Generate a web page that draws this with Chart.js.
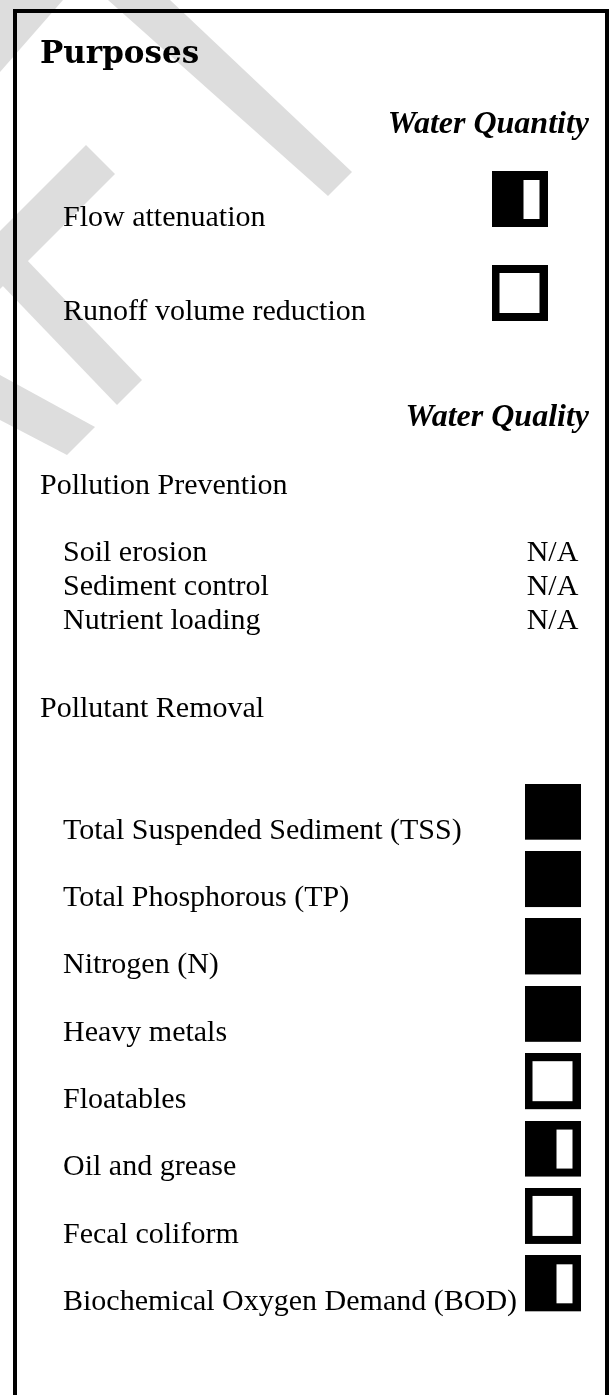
<!DOCTYPE html>
<html>
<head>
<meta charset="utf-8">
<title>Purposes</title>
<script src="https://cdn.jsdelivr.net/npm/chart.js@4"></script>
<style>
  html, body { margin: 0; padding: 0; background: #fff; }
  #wrap { position: relative; width: 613px; height: 1395px; }
</style>
</head>
<body>
<div id="wrap"><canvas id="purposeChart"></canvas></div>
<script>
// ratings: 1 = full square, 0.5 = half square, 0 = hollow square, null = N/A
const columns = ["Water Quantity", "Water Quality"];

const quantityLabels = ["Flow attenuation", "Runoff volume reduction"];
const quantityRatings = [0.5, 0];

const preventionLabels = ["Soil erosion", "Sediment control", "Nutrient loading"];
const preventionRatings = [null, null, null];

const removalLabels = [
  "Total Suspended Sediment (TSS)",
  "Total Phosphorous (TP)",
  "Nitrogen (N)",
  "Heavy metals",
  "Floatables",
  "Oil and grease",
  "Fecal coliform",
  "Biochemical Oxygen Demand (BOD)"
];
const removalRatings = [1, 1, 1, 1, 0, 0.5, 0, 0.5];

const serif = "'Liberation Serif', 'Times New Roman', serif";
const axisWidth = 440;

// rating icon, drawn in the top of a taller canvas so it sits on the text baseline
function makeIcon(rating) {
  const c = document.createElement("canvas");
  c.width = 56;
  c.height = 94;
  const g = c.getContext("2d");
  g.fillStyle = "#000";
  g.fillRect(0, 0, 56, 56);
  g.fillStyle = "#fff";
  if (rating === 0) g.fillRect(8, 8, 40, 40);
  if (rating === 0.5) g.fillRect(32, 9, 16, 39);
  return c;
}
const icons = { "1": makeIcon(1), "0.5": makeIcon(0.5), "0": makeIcon(0) };

function points(labels, ratings, column) {
  return labels.map((l, i) => ({ x: column, y: l, rating: ratings[i] }));
}

// grey "draft" strokes behind the page
const watermark = [
  [[108, 0], [170, 0], [352, 172], [328, 196]],
  [[0, 0], [63, 0], [0, 72]],
  [[86, 145], [115, 174], [0, 289], [0, 231]],
  [[0, 232], [142, 380], [117, 405], [0, 283]],
  [[0, 375], [95, 427], [67, 455], [0, 420]]
];

const headings = [
  { text: "Purposes", x: 40, y: 55, align: "left", font: "bold 31px 'DejaVu Serif', serif" },
  { text: "Water Quantity", x: 589, y: 125, align: "right", font: "italic bold 32px " + serif },
  { text: "Water Quality", x: 589, y: 418, align: "right", font: "italic bold 32px " + serif },
  { text: "Pollution Prevention", x: 40, y: 486, align: "left", font: "30px " + serif },
  { text: "Pollutant Removal", x: 40, y: 709, align: "left", font: "30px " + serif }
];

const pagePlugin = {
  id: "page",
  beforeDraw(chart) {
    const ctx = chart.ctx;
    ctx.save();
    ctx.fillStyle = "#fff";
    ctx.fillRect(0, 0, chart.width, chart.height);
    ctx.fillStyle = "#dddddd";
    watermark.forEach(poly => {
      ctx.beginPath();
      poly.forEach((p, i) => i ? ctx.lineTo(p[0], p[1]) : ctx.moveTo(p[0], p[1]));
      ctx.closePath();
      ctx.fill();
    });
    ctx.strokeStyle = "#000";
    ctx.lineWidth = 4;
    ctx.strokeRect(15, 11, 592, 1450);
    ctx.restore();
  },
  afterDraw(chart) {
    const ctx = chart.ctx;
    ctx.save();
    ctx.fillStyle = "#000";
    ctx.textBaseline = "middle";
    headings.forEach(h => {
      ctx.font = h.font;
      ctx.textAlign = h.align;
      ctx.fillText(h.text, h.x, h.y);
    });
    // N/A for rows without a rating
    ctx.font = "30px " + serif;
    ctx.textAlign = "center";
    chart.data.datasets.forEach((ds, di) => {
      chart.getDatasetMeta(di).data.forEach((el, i) => {
        if (ds.data[i].rating === null) ctx.fillText("N/A", el.x, el.y);
      });
    });
    ctx.restore();
  }
};

// row labels are mirrored ticks pulled back to the left margin, so long ones are not clipped
const rowScale = (labels, weight, order) => ({
  type: "category",
  labels: labels,
  offset: true,
  position: "left",
  stack: "rows",
  stackWeight: weight,
  weight: order,
  grid: { display: false },
  border: { display: false },
  ticks: {
    mirror: true,
    crossAlign: "near",
    padding: -axisWidth,
    autoSkip: false,
    color: "#000",
    font: { family: serif, size: 30 }
  },
  afterFit: s => { s.width = axisWidth; }
});

const gapScale = (weight, order) => ({
  type: "category",
  labels: [""],
  offset: true,
  position: "left",
  stack: "rows",
  stackWeight: weight,
  weight: order,
  display: false
});

const iconStyle = ctx => icons[String(ctx.raw.rating)];

new Chart(document.getElementById("purposeChart"), {
  type: "scatter",
  data: {
    datasets: [
      {
        label: "Water Quantity",
        data: points(quantityLabels, quantityRatings, columns[0]),
        yAxisID: "yQuantity",
        pointStyle: iconStyle,
        pointRadius: 28,
        clip: false
      },
      {
        label: "Pollution Prevention",
        data: points(preventionLabels, preventionRatings, columns[1]),
        yAxisID: "yPrevention",
        pointStyle: false,
        pointRadius: 0,
        clip: false
      },
      {
        label: "Pollutant Removal",
        data: points(removalLabels, removalRatings, columns[1]),
        yAxisID: "yRemoval",
        pointStyle: iconStyle,
        pointRadius: 28,
        clip: false
      }
    ]
  },
  options: {
    responsive: true,
    maintainAspectRatio: false,
    animation: false,
    layout: { padding: { top: 171, bottom: 59, left: 63, right: 44 } },
    plugins: { legend: { display: false }, tooltip: { enabled: false } },
    scales: {
      x: { type: "category", labels: columns, offset: true, display: false },
      yQuantity: rowScale(quantityLabels, 188, 5),
      yGap1: gapScale(177, 4),
      yPrevention: rowScale(preventionLabels, 102, 3),
      yGap2: gapScale(159, 2),
      yRemoval: rowScale(removalLabels, 539, 1)
    }
  },
  plugins: [pagePlugin]
});
</script>
</body>
</html>
